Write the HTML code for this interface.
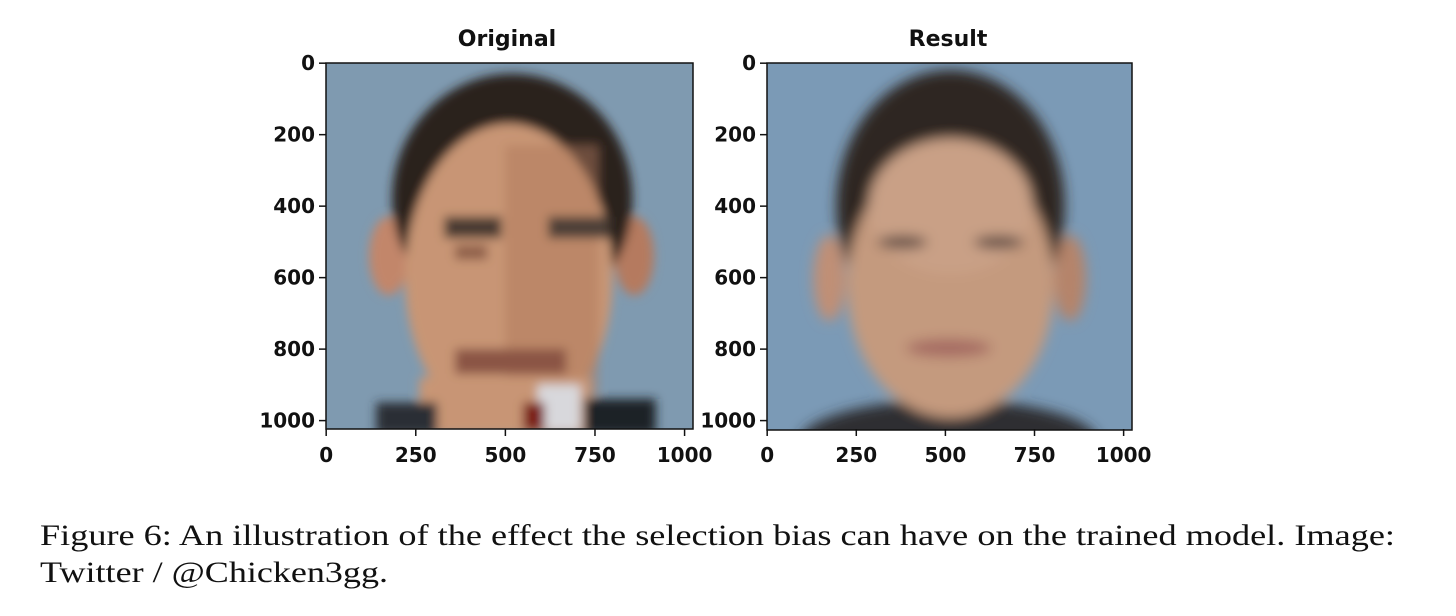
<!DOCTYPE html>
<html><head><meta charset="utf-8">
<style>
html,body{margin:0;padding:0;background:#fff;width:1456px;height:616px;overflow:hidden}
svg{display:block}
.tk{font-family:"DejaVu Sans","Liberation Sans",sans-serif;font-weight:bold;font-size:20px;fill:#111}
.ttl{font-family:"DejaVu Sans","Liberation Sans",sans-serif;font-weight:bold;font-size:22px;fill:#111}
.cap{font-family:"Liberation Serif",serif;font-size:30px;fill:#111}
</style></head>
<body>
<svg id="fig" width="1456" height="616" viewBox="0 0 1456 616">
<defs>
<filter id="soft" x="-10%" y="-10%" width="120%" height="120%"><feGaussianBlur stdDeviation="14"/></filter>
<filter id="soft2" x="-10%" y="-10%" width="120%" height="120%"><feGaussianBlur stdDeviation="18"/></filter>
<clipPath id="clipImg"><rect x="0" y="0" width="1024" height="1024"/></clipPath>
</defs>

<g transform="translate(326,63) scale(0.3584,0.3574)" clip-path="url(#clipImg)">
  <rect width="1024" height="1024" fill="#7f9ab0"/>
  <g filter="url(#soft)">
    <ellipse cx="175" cy="540" rx="55" ry="110" fill="#c2866a"/>
    <ellipse cx="860" cy="540" rx="55" ry="110" fill="#b57a5e"/>
    <ellipse cx="520" cy="380" rx="335" ry="350" fill="#2a221e"/>
    <ellipse cx="510" cy="600" rx="290" ry="430" fill="#c89575"/>
    <rect x="500" y="230" width="260" height="700" fill="#b07a5c" opacity="0.5"/>
    <rect x="260" y="880" width="480" height="160" fill="#c89575"/>
    <rect x="140" y="950" width="170" height="90" fill="#2b2f36"/>
    <rect x="720" y="940" width="200" height="100" fill="#1e2328"/>
    <rect x="590" y="900" width="120" height="130" fill="#d8d8dc"/>
    <rect x="550" y="950" width="60" height="80" fill="#7a1a14"/>
    <rect x="330" y="430" width="160" height="60" fill="#4a3a33"/>
    <rect x="620" y="430" width="170" height="60" fill="#4e4038"/>
    <rect x="360" y="510" width="90" height="40" fill="#8e5e48"/>
    <rect x="360" y="800" width="310" height="70" fill="#8b5545"/>
  </g>
</g>
<rect x="326" y="63" width="367" height="366" fill="none" stroke="#111" stroke-width="1.5"/>

<g transform="translate(767,63) scale(0.3564,0.3584)" clip-path="url(#clipImg)">
  <rect width="1024" height="1024" fill="#7b9ab6"/>
  <g filter="url(#soft2)">
    <ellipse cx="510" cy="1060" rx="420" ry="120" fill="#2e2f33"/>
    <ellipse cx="175" cy="600" rx="45" ry="120" fill="#c08f76"/>
    <ellipse cx="850" cy="600" rx="45" ry="120" fill="#b5846a"/>
    <ellipse cx="515" cy="400" rx="320" ry="380" fill="#2f2622"/>
    <ellipse cx="515" cy="620" rx="290" ry="370" fill="#c49a7e"/>
    <ellipse cx="515" cy="400" rx="230" ry="190" fill="#c9a086"/>
    <ellipse cx="380" cy="500" rx="70" ry="18" fill="#5d4a42"/>
    <ellipse cx="650" cy="500" rx="70" ry="18" fill="#5d4a42"/>
    <ellipse cx="510" cy="795" rx="120" ry="25" fill="#a56a62"/>
  </g>
</g>
<rect x="767" y="63" width="365" height="367" fill="none" stroke="#111" stroke-width="1.5"/>

<text class="ttl" x="507" y="46" text-anchor="middle">Original</text>
<text class="ttl" x="948" y="46" text-anchor="middle">Result</text>

<text class="cap" x="40" y="545" textLength="1355" lengthAdjust="spacingAndGlyphs">Figure 6:  An illustration of the effect the selection bias can have on the trained model.  Image:</text>
<text class="cap" x="40" y="582" textLength="348" lengthAdjust="spacingAndGlyphs">Twitter / @Chicken3gg.</text>
<g id="ticks"></g>
</svg>
<script>
const xTickValues = [0, 250, 500, 750, 1000];
const yTickValues = [0, 200, 400, 600, 800, 1000];
const xTickLabels = ["0", "250", "500", "750", "1000"];
const yTickLabels = ["0", "200", "400", "600", "800", "1000"];
const panels = [{name:"original", x0:326, w:367}, {name:"result", x0:767, w:365}];
const Y0 = 63, H = 366, N = 1024;
const ns = "http://www.w3.org/2000/svg";
const g = document.getElementById("ticks");
function mk(tag, attrs){const e=document.createElementNS(ns,tag);for(const k in attrs)e.setAttribute(k,attrs[k]);return e;}
panels.forEach(p=>{
  const sx = v => p.x0 + (v+0.5)/N*p.w;
  const sy = v => Y0 + (v+0.5)/N*H;
  xTickValues.forEach((v,i)=>{
    const l = mk("line",{x1:sx(v),x2:sx(v),y1:Y0+H,y2:Y0+H+7,stroke:"#111","stroke-width":1.5});
    
    
    g.appendChild(l);
    const t = mk("text",{x:sx(v),y:Y0+H+33,"text-anchor":"middle",class:"tk"});
    t.textContent = xTickLabels[i];
    
    
    g.appendChild(t);
  });
  yTickValues.forEach((v,i)=>{
    const l = mk("line",{x1:p.x0-7,x2:p.x0,y1:sy(v),y2:sy(v),stroke:"#111","stroke-width":1.5});
    
    
    g.appendChild(l);
    const t = mk("text",{x:p.x0-11,y:sy(v)+7,"text-anchor":"end",class:"tk"});
    t.textContent = yTickLabels[i];
    
    
    g.appendChild(t);
  });
});
</script>
</body></html>
